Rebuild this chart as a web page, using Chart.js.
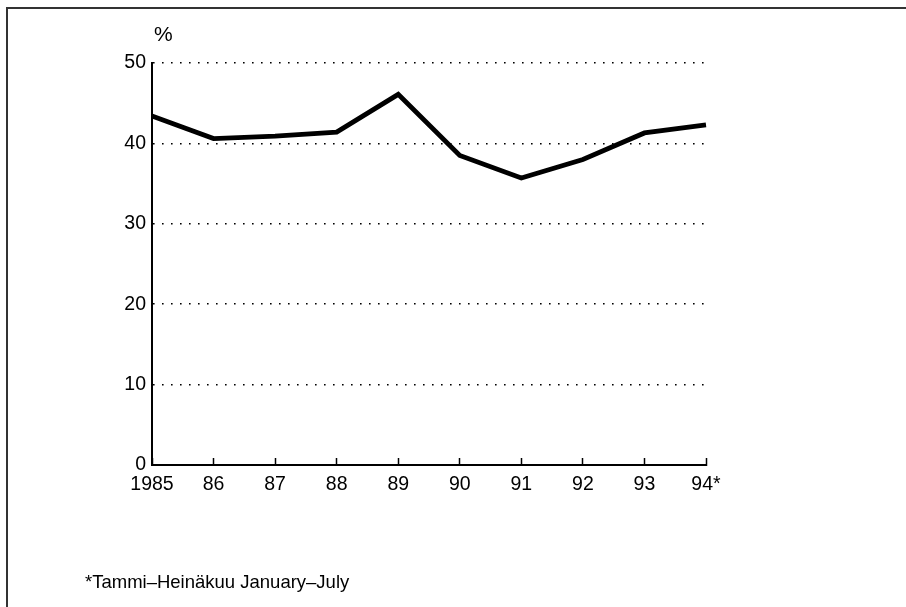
<!DOCTYPE html>
<html>
<head>
<meta charset="utf-8">
<script src="https://cdn.jsdelivr.net/npm/chart.js@4"></script>
<style>
  html, body { margin: 0; padding: 0; background: #fff; }
  #wrap { position: relative; width: 906px; height: 607px; overflow: hidden; font-family: "Liberation Sans", Arial, sans-serif; }
  #frame { position: absolute; left: 6px; top: 7px; right: -4px; bottom: -4px; border-top: 2px solid #333; border-left: 2px solid #333; }
  #unit { position: absolute; left: 154px; top: 22px; font-size: 21px; color: #000; }
  #note { position: absolute; left: 85px; top: 571px; font-size: 18.5px; color: #000; }
  #chart { position: absolute; left: 0; top: 0; }
</style>
</head>
<body>
<div id="wrap">
  <div id="frame"></div>
  <canvas id="chart" width="906" height="607"></canvas>
  <div id="unit">%</div>
  <div id="note">*Tammi–Heinäkuu January–July</div>
</div>
<script>
'use strict';

// tick labels along the bottom, one per year
const yearLabels = ['1985', '86', '87', '88', '89', '90', '91', '92', '93', '94*'];
// share, %
const shareValues = [43.4, 40.6, 40.9, 41.4, 46.1, 38.5, 35.7, 38.0, 41.3, 42.3];
const yTicks = [0, 10, 20, 30, 40, 50];

const FONT = { family: '"Liberation Sans", Arial, sans-serif', size: 19.5 };

const ctx = document.getElementById('chart').getContext('2d');
const chart = new Chart(ctx, {
  type: 'line',
  data: {
    labels: yearLabels,
    datasets: [
      { data: shareValues, borderColor: '#000', borderWidth: 4.8, pointRadius: 0, tension: 0, fill: false, borderJoinStyle: 'miter' },
    ],
  },
  options: {
    responsive: false,
    animation: false,
    devicePixelRatio: 1,
    layout: { padding: { top: 63, right: 200, bottom: 0, left: 0 } },
    plugins: { legend: { display: false }, tooltip: { enabled: false } },
    scales: {
      x: {
        type: 'category',
        offset: false,
        afterFit: s => { s.height = 142; },
        grid: { drawOnChartArea: false, drawTicks: true, tickLength: -7, tickColor: '#000', tickWidth: 1.5 },
        border: { display: true, color: '#000', width: 2 },
        ticks: { color: '#000', font: FONT, padding: 15, maxRotation: 0, autoSkip: false },
      },
      y: {
        min: yTicks[0],
        max: yTicks[yTicks.length - 1],
        afterFit: s => { s.width = 152; },
        afterBuildTicks: s => { s.ticks = yTicks.map(v => ({ value: v })); },
        grid: { drawTicks: false, color: '#000', lineWidth: 1.6 },
        border: { display: true, color: '#000', width: 2, dash: [1.6, 7.4] },
        ticks: { color: '#000', font: FONT, padding: 6 },
      },
    },
  },
});
</script>
</body>
</html>
